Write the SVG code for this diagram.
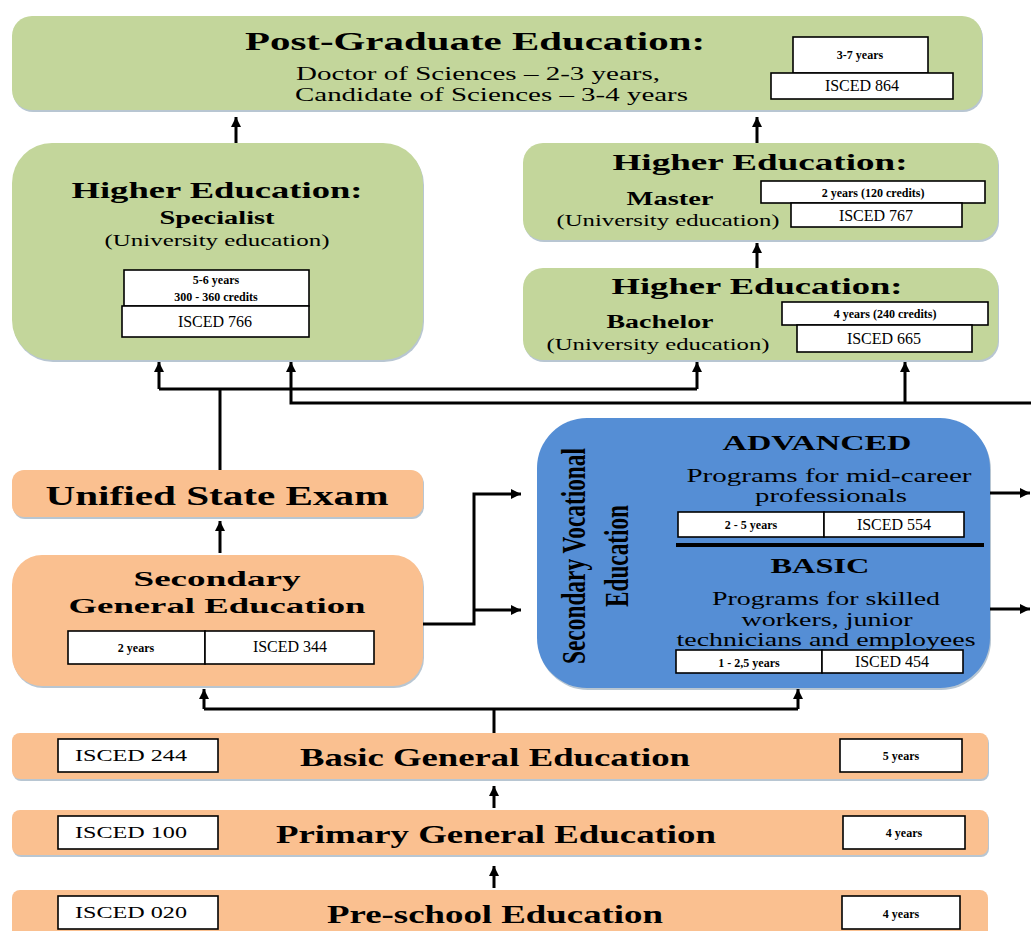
<svg xmlns="http://www.w3.org/2000/svg" width="1031" height="931" viewBox="0 0 1031 931">
<defs>
<marker id="ah" markerUnits="userSpaceOnUse" markerWidth="11" markerHeight="11" refX="10" refY="5" orient="auto">
<path d="M0,0 L10,5 L0,10 Z" fill="#000"/>
</marker>
</defs>
<style>
.g{fill:#c3d69b}
.o{fill:#fac090}
.b{fill:#558ed5}
.sh{fill:#9aaebf;opacity:0.7}
.wb{fill:#fff;stroke:#000;stroke-width:1.6}
text{font-family:"Liberation Serif","Times New Roman",serif;fill:#000}
.c{text-anchor:middle}
.t1{font-weight:bold;font-size:26px}
.t2{font-weight:bold;font-size:23px}
.t3{font-weight:bold;font-size:18px}
.r16{font-size:16px}
.r18{font-size:18px}
.r19{font-size:19px}
.b12{font-weight:bold;font-size:12px}
.bt{font-weight:bold;font-size:26px}
.ln{fill:none;stroke:#000;stroke-width:3}
.ar{fill:none;stroke:#000;stroke-width:3;marker-end:url(#ah)}
</style>
<rect width="1031" height="931" fill="#fff"/>

<g id="postgrad">
<rect class="sh" x="13" y="18" width="970" height="94" rx="20"/>
<rect class="g" x="12" y="16" width="970" height="94" rx="20"/>
<text class="c t1" x="475" y="50" textLength="460" lengthAdjust="spacingAndGlyphs">Post-Graduate Education:</text>
<text class="r19" x="296" y="80" textLength="364" lengthAdjust="spacingAndGlyphs">Doctor of Sciences – 2-3 years,</text>
<text class="r19" x="295" y="101" textLength="393" lengthAdjust="spacingAndGlyphs">Candidate of Sciences – 3-4 years</text>
<rect class="wb" x="793" y="37" width="135" height="36"/>
<text class="c b12" x="860" y="59">3-7 years</text>
<rect class="wb" x="771" y="73" width="182" height="26"/>
<text class="c r16" x="862" y="91">ISCED 864</text>
</g>

<g id="specialist">
<rect class="sh" x="13" y="145" width="411" height="217" rx="40"/>
<rect class="g" x="12" y="143" width="411" height="217" rx="40"/>
<text class="c t2" x="217" y="198" textLength="291" lengthAdjust="spacingAndGlyphs">Higher Education:</text>
<text class="c t3" x="217" y="224" textLength="115" lengthAdjust="spacingAndGlyphs">Specialist</text>
<text class="c r16" x="217" y="246" textLength="225" lengthAdjust="spacingAndGlyphs">(University education)</text>
<rect class="wb" x="124" y="270" width="185" height="36"/>
<text class="c b12" x="216" y="284">5-6 years</text>
<text class="c b12" x="216" y="301">300 - 360 credits</text>
<rect class="wb" x="122" y="306" width="187" height="31"/>
<text class="c r16" x="215" y="327">ISCED 766</text>
</g>

<g id="master">
<rect class="sh" x="524" y="145" width="475" height="97" rx="20"/>
<rect class="g" x="523" y="143" width="475" height="97" rx="20"/>
<text class="c t2" x="760" y="170" textLength="295" lengthAdjust="spacingAndGlyphs">Higher Education:</text>
<text class="c t3" x="670" y="205" textLength="87" lengthAdjust="spacingAndGlyphs">Master</text>
<text class="c r16" x="668" y="226" textLength="223" lengthAdjust="spacingAndGlyphs">(University education)</text>
<rect class="wb" x="761" y="181" width="224" height="22"/>
<text class="c b12" x="873" y="197">2 years (120 credits)</text>
<rect class="wb" x="791" y="203" width="171" height="24"/>
<text class="c r16" x="876" y="221">ISCED 767</text>
</g>

<g id="bachelor">
<rect class="sh" x="524" y="270" width="475" height="92" rx="20"/>
<rect class="g" x="523" y="268" width="475" height="92" rx="20"/>
<text class="c t2" x="757" y="294" textLength="291" lengthAdjust="spacingAndGlyphs">Higher Education:</text>
<text class="c t3" x="660" y="328" textLength="107" lengthAdjust="spacingAndGlyphs">Bachelor</text>
<text class="c r16" x="658" y="350" textLength="223" lengthAdjust="spacingAndGlyphs">(University education)</text>
<rect class="wb" x="782" y="302" width="206" height="23"/>
<text class="c b12" x="885" y="318">4 years (240 credits)</text>
<rect class="wb" x="797" y="325" width="175" height="27"/>
<text class="c r16" x="884" y="344">ISCED 665</text>
</g>

<g id="unified">
<rect class="sh" x="13" y="472" width="411" height="47" rx="12"/>
<rect class="o" x="12" y="470" width="411" height="47" rx="12"/>
<text class="c" x="217" y="505" font-weight="bold" font-size="27" textLength="343" lengthAdjust="spacingAndGlyphs">Unified State Exam</text>
</g>

<g id="secondary">
<rect class="sh" x="13" y="557" width="411" height="131" rx="30"/>
<rect class="o" x="12" y="555" width="411" height="131" rx="30"/>
<text class="c" x="217" y="586" font-weight="bold" font-size="22" textLength="167" lengthAdjust="spacingAndGlyphs">Secondary</text>
<text class="c" x="217" y="613" font-weight="bold" font-size="22" textLength="297" lengthAdjust="spacingAndGlyphs">General Education</text>
<rect class="wb" x="68" y="631" width="137" height="33"/>
<text class="c b12" x="136" y="652">2 years</text>
<rect class="wb" x="205" y="631" width="169" height="33"/>
<text class="c r16" x="290" y="652">ISCED 344</text>
</g>

<g id="vocational">
<rect class="sh" x="538" y="420" width="453" height="270" rx="50"/>
<rect class="b" x="537" y="418" width="453" height="270" rx="50"/>
<text class="c" transform="translate(585,556) rotate(-90)" font-weight="bold" font-size="34" textLength="216" lengthAdjust="spacingAndGlyphs">Secondary Vocational</text>
<text class="c" transform="translate(628,556) rotate(-90)" font-weight="bold" font-size="34" textLength="102" lengthAdjust="spacingAndGlyphs">Education</text>
<text class="c" x="817" y="450" font-weight="bold" font-size="21" textLength="189" lengthAdjust="spacingAndGlyphs">ADVANCED</text>
<text class="c r18" x="829" y="482" textLength="285" lengthAdjust="spacingAndGlyphs">Programs for mid-career</text>
<text class="c r18" x="831" y="502" textLength="152" lengthAdjust="spacingAndGlyphs">professionals</text>
<rect class="wb" x="678" y="512" width="146" height="25"/>
<text class="c b12" x="751" y="529">2 - 5 years</text>
<rect class="wb" x="824" y="512" width="140" height="25"/>
<text class="c r16" x="894" y="530">ISCED 554</text>
<line x1="676" y1="545" x2="984" y2="545" stroke="#000" stroke-width="4"/>
<text class="c" x="820" y="573" font-weight="bold" font-size="21" textLength="99" lengthAdjust="spacingAndGlyphs">BASIC</text>
<text class="c r18" x="826" y="605" textLength="228" lengthAdjust="spacingAndGlyphs">Programs for skilled</text>
<text class="c r18" x="827" y="626" textLength="171" lengthAdjust="spacingAndGlyphs">workers, junior</text>
<text class="c r18" x="826" y="646" textLength="299" lengthAdjust="spacingAndGlyphs">technicians and employees</text>
<rect class="wb" x="676" y="650" width="146" height="23"/>
<text class="c b12" x="749" y="667">1 - 2,5 years</text>
<rect class="wb" x="822" y="650" width="141" height="23"/>
<text class="c r16" x="892" y="667">ISCED 454</text>
</g>

<g id="basic">
<rect class="sh" x="13" y="735" width="976" height="46" rx="8"/>
<rect class="o" x="12" y="733" width="976" height="46" rx="8"/>
<rect class="wb" x="58" y="739" width="160" height="33"/>
<text class="c r16" x="131" y="761" textLength="112" lengthAdjust="spacingAndGlyphs">ISCED 244</text>
<text class="c bt" x="495" y="766" textLength="390" lengthAdjust="spacingAndGlyphs">Basic General Education</text>
<rect class="wb" x="840" y="739" width="122" height="33"/>
<text class="c b12" x="901" y="760">5 years</text>
</g>

<g id="primary">
<rect class="sh" x="13" y="812" width="976" height="45" rx="8"/>
<rect class="o" x="12" y="810" width="976" height="45" rx="8"/>
<rect class="wb" x="58" y="816" width="160" height="33"/>
<text class="c r16" x="131" y="838" textLength="112" lengthAdjust="spacingAndGlyphs">ISCED 100</text>
<text class="c bt" x="496" y="843" textLength="440" lengthAdjust="spacingAndGlyphs">Primary General Education</text>
<rect class="wb" x="843" y="816" width="122" height="33"/>
<text class="c b12" x="904" y="837">4 years</text>
</g>

<g id="preschool">
<rect class="o" x="12" y="890" width="976" height="60" rx="8"/>
<rect class="wb" x="58" y="896" width="160" height="33"/>
<text class="c r16" x="131" y="918" textLength="112" lengthAdjust="spacingAndGlyphs">ISCED 020</text>
<text class="c bt" x="495" y="923" textLength="336" lengthAdjust="spacingAndGlyphs">Pre-school Education</text>
<rect class="wb" x="842" y="896" width="118" height="33"/>
<text class="c b12" x="901" y="918">4 years</text>
</g>

<g id="connectors">
<path class="ar" d="M236,143 V117"/>
<path class="ar" d="M757,143 V117"/>
<path class="ar" d="M757,268 V243"/>
<path class="ln" d="M220,470 V389" stroke-width="4"/>
<path class="ln" d="M159,389 H697"/>
<path class="ar" d="M159,389 V362"/>
<path class="ar" d="M697,389 V362"/>
<path class="ar" d="M1031,403 H291 V362"/>
<path class="ar" d="M905,403 V362"/>
<path class="ar" d="M220,553 V521"/>
<path class="ar" d="M423,624 H474 V494 H521"/>
<path class="ar" d="M474,610 H521"/>
<path class="ar" d="M990,493 H1030"/>
<path class="ar" d="M990,609 H1030"/>
<path class="ln" d="M494,733 V709"/>
<path class="ln" d="M204,709 H798"/>
<path class="ar" d="M204,709 V689"/>
<path class="ar" d="M798,709 V689"/>
<path class="ar" d="M494,808 V786"/>
<path class="ar" d="M494,888 V866"/>
</g>
</svg>
